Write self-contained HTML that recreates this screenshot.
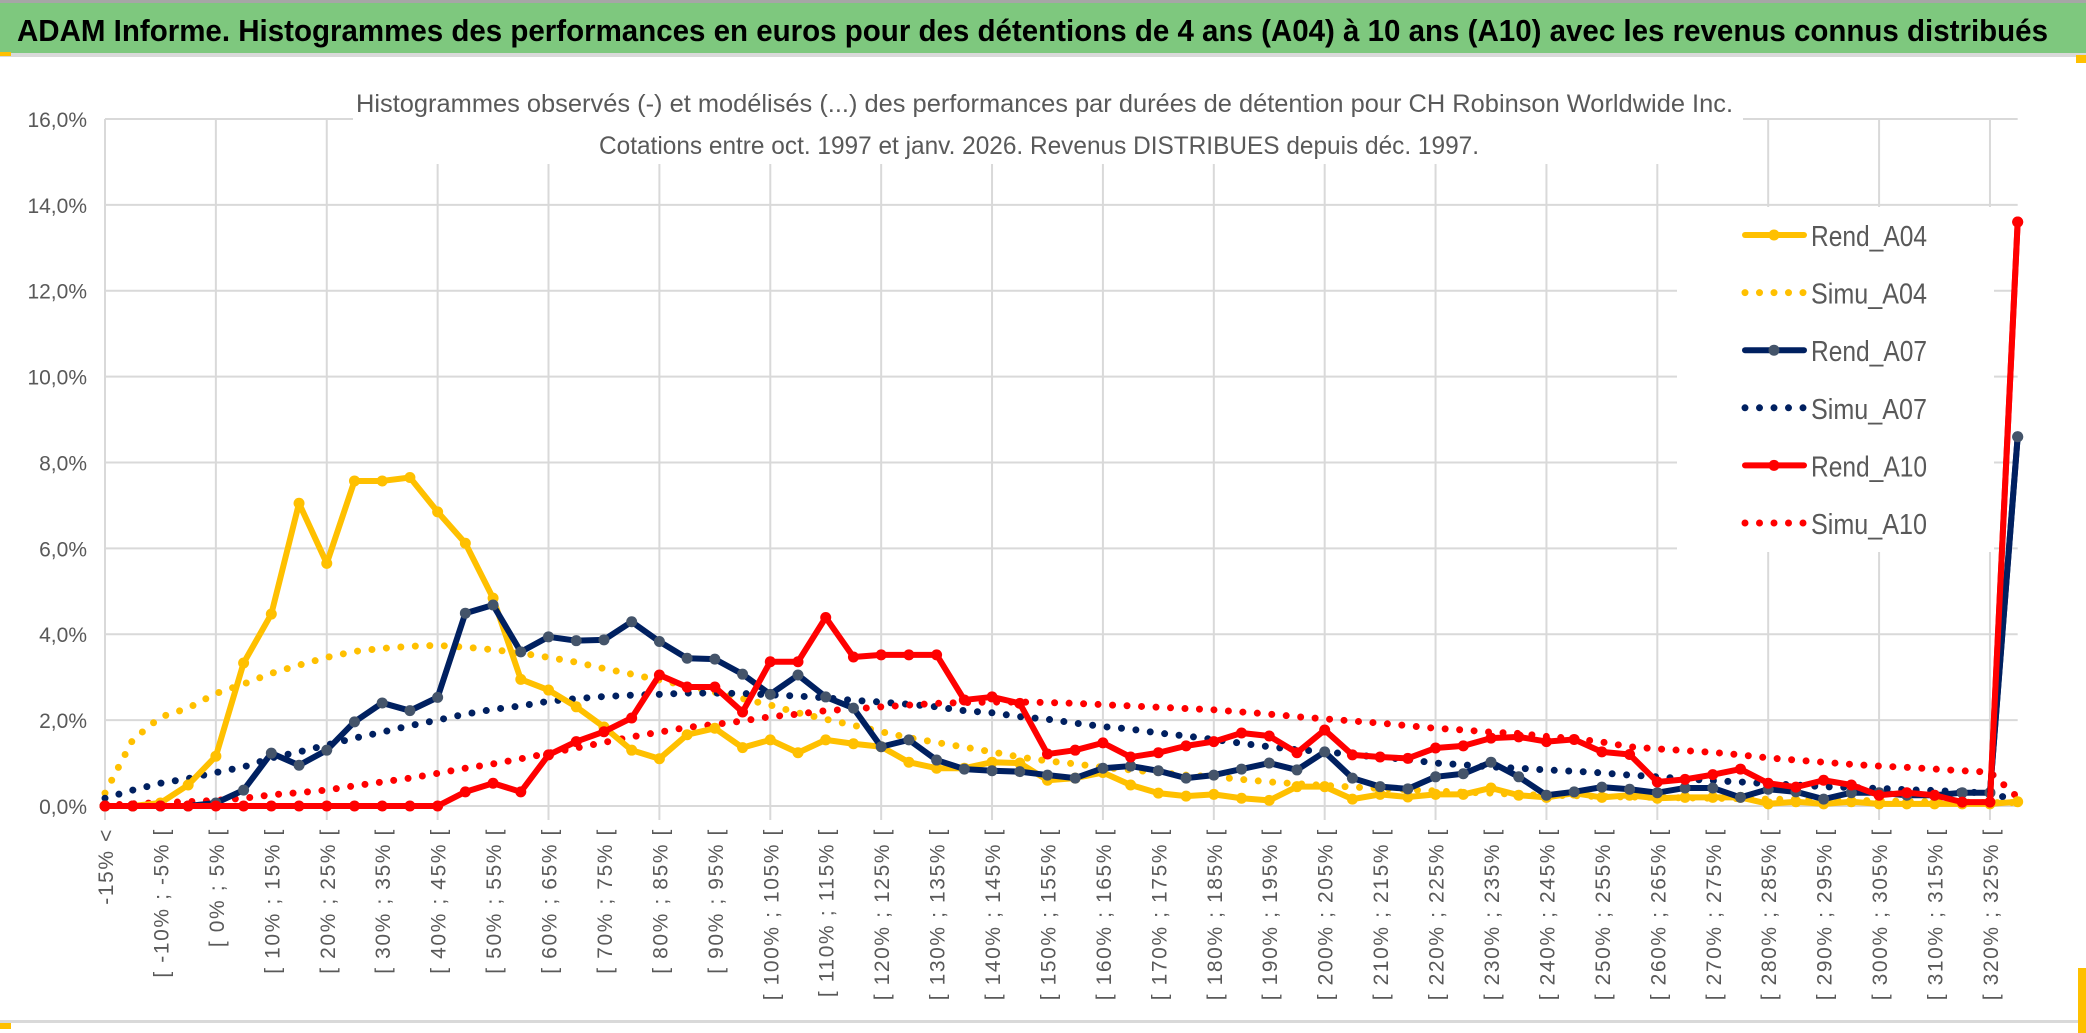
<!DOCTYPE html>
<html><head><meta charset="utf-8"><style>
html,body{margin:0;padding:0;background:#fff;}
svg{display:block;}
</style></head><body>
<svg id="chart" width="2086" height="1033" viewBox="0 0 2086 1033" xmlns="http://www.w3.org/2000/svg" font-family="'Liberation Sans Narrow','Liberation Sans',sans-serif">
<rect x="0" y="0" width="2086" height="1033" fill="#fff"/>
<rect x="0" y="0" width="2086" height="3" fill="#a6a6a6"/>
<rect x="0" y="3" width="2086" height="50" fill="#7ec87e"/>
<rect x="0" y="53" width="2086" height="4" fill="#d9d9d9"/>
<rect x="0" y="52" width="11" height="4" fill="#ffc000"/>
<text x="17" y="41" font-size="31" font-weight="bold" fill="#000" textLength="2031" lengthAdjust="spacingAndGlyphs">ADAM Informe. Histogrammes des performances en euros pour des détentions de 4 ans (A04) à 10 ans (A10) avec les revenus connus distribués</text>
<rect x="0" y="1020" width="2086" height="3" fill="#d9d9d9"/>
<rect x="0" y="1023" width="11" height="6" fill="#ffc000"/>
<rect x="2078" y="968" width="8" height="65" fill="#ffc000"/>
<rect x="2076" y="55" width="10" height="8" fill="#ffc000"/>
<g id="grid"></g>
<rect x="353" y="80" width="1390" height="84" fill="#fff"/>
<text x="356" y="112" font-size="25" fill="#595959" textLength="1377" lengthAdjust="spacingAndGlyphs">Histogrammes observés (-) et modélisés (...) des performances par durées de détention pour CH Robinson Worldwide Inc.</text>
<text x="599" y="154" font-size="25" fill="#595959" textLength="880" lengthAdjust="spacingAndGlyphs">Cotations entre oct. 1997 et janv. 2026. Revenus DISTRIBUES depuis déc. 1997.</text>
<g id="yaxis"></g>
<g id="xaxis"></g>
<g id="series"></g>
<rect x="1677" y="207" width="317" height="345" fill="#fff"/>
<g id="legend"></g>
<g id="overlay"></g>
</svg>
<script>
const categories = (function(){ const c=["-15% <","[ -15% ; -10% ["]; for(let a=-10;a<=325;a+=5){ c.push("[ "+a+"% ; "+(a+5)+"% ["); } return c; })();
const yTicks = [0,2,4,6,8,10,12,14,16];
const yTickLabels = ["0,0%","2,0%","4,0%","6,0%","8,0%","10,0%","12,0%","14,0%","16,0%"];
const rendA04 = [0,0,0.07,0.49,1.16,3.33,4.47,7.05,5.65,7.57,7.57,7.65,6.85,6.12,4.84,2.95,2.7,2.31,1.84,1.3,1.1,1.66,1.81,1.36,1.54,1.24,1.54,1.45,1.38,1.02,0.88,0.88,1.02,1.0,0.6,0.65,0.78,0.49,0.3,0.23,0.27,0.18,0.13,0.45,0.45,0.16,0.27,0.21,0.27,0.27,0.42,0.25,0.2,0.3,0.2,0.25,0.18,0.2,0.2,0.2,0.05,0.1,0.05,0.1,0.05,0.05,0.05,0.05,0.05,0.1];
const simuA04 = [0.3,1.54,2.07,2.28,2.62,2.84,3.09,3.28,3.46,3.6,3.67,3.72,3.74,3.7,3.64,3.56,3.46,3.35,3.2,3.07,2.93,2.8,2.65,2.5,2.35,2.17,2.02,1.88,1.73,1.59,1.48,1.37,1.26,1.14,1.05,0.98,0.9,0.84,0.78,0.72,0.68,0.62,0.56,0.52,0.48,0.44,0.41,0.38,0.35,0.32,0.3,0.27,0.25,0.24,0.22,0.21,0.2,0.19,0.18,0.17,0.16,0.15,0.14,0.13,0.12,0.11,0.1,0.09,0.08,0.08];
const rendA07 = [0,0,0,0,0.07,0.37,1.23,0.95,1.3,1.96,2.4,2.22,2.53,4.49,4.68,3.59,3.94,3.85,3.87,4.29,3.83,3.44,3.42,3.07,2.6,3.05,2.54,2.28,1.38,1.54,1.07,0.86,0.82,0.8,0.72,0.65,0.88,0.93,0.82,0.65,0.72,0.86,1.0,0.84,1.26,0.65,0.45,0.4,0.68,0.75,1.02,0.68,0.25,0.33,0.44,0.39,0.31,0.42,0.42,0.2,0.39,0.33,0.16,0.31,0.31,0.25,0.25,0.31,0.31,8.6];
const simuA07 = [0.18,0.37,0.53,0.64,0.78,0.91,1.12,1.26,1.42,1.58,1.72,1.87,2.0,2.14,2.25,2.33,2.44,2.5,2.55,2.58,2.6,2.63,2.63,2.62,2.59,2.56,2.52,2.46,2.42,2.37,2.31,2.22,2.17,2.08,2.02,1.93,1.85,1.79,1.7,1.63,1.55,1.46,1.38,1.31,1.27,1.19,1.14,1.08,1.0,0.96,0.91,0.88,0.84,0.81,0.77,0.72,0.68,0.63,0.59,0.56,0.52,0.49,0.45,0.43,0.41,0.38,0.36,0.33,0.3,0.12];
const rendA10 = [0,0,0,0,0,0,0,0,0,0,0,0,0,0.33,0.53,0.33,1.19,1.5,1.73,2.05,3.05,2.77,2.77,2.19,3.36,3.36,4.39,3.47,3.52,3.52,3.52,2.47,2.54,2.39,1.21,1.3,1.47,1.14,1.24,1.4,1.5,1.7,1.63,1.24,1.77,1.19,1.14,1.11,1.35,1.4,1.58,1.61,1.5,1.55,1.26,1.2,0.56,0.62,0.73,0.86,0.53,0.44,0.6,0.49,0.25,0.31,0.25,0.09,0.09,13.6];
const simuA10 = [0.02,0.05,0.08,0.1,0.13,0.18,0.26,0.31,0.37,0.47,0.56,0.65,0.76,0.88,0.98,1.1,1.23,1.35,1.48,1.61,1.72,1.83,1.9,1.98,2.08,2.14,2.22,2.26,2.31,2.35,2.39,2.41,2.42,2.42,2.41,2.39,2.36,2.33,2.3,2.27,2.24,2.19,2.14,2.08,2.03,1.98,1.93,1.87,1.81,1.77,1.72,1.69,1.62,1.57,1.49,1.38,1.33,1.29,1.25,1.19,1.12,1.07,1.02,0.97,0.93,0.9,0.86,0.82,0.79,0.2];

const NS="http://www.w3.org/2000/svg";
const X0=105, XSTEP=27.72, Y0=806, YPER=42.94;
function xScale(i){ return X0 + i*XSTEP; }
function yScale(v){ return Y0 - v*YPER; }
function mk(tag, parent){ const e=document.createElementNS(NS,tag); parent.appendChild(e); return e; }
const grid=document.getElementById('grid');
const xEnd = xScale(categories.length-1);
yTicks.forEach((t,k)=>{
  const l=mk('line',grid);
  
  
  l.setAttribute('x1',X0); l.setAttribute('x2',xEnd); l.setAttribute('y1',yScale(t)); l.setAttribute('y2',yScale(t));
  l.setAttribute('stroke','#d9d9d9'); l.setAttribute('stroke-width','2');
  const tx=mk('text',document.getElementById('yaxis'));
  
  
  tx.setAttribute('x',87); tx.setAttribute('y',yScale(t)+8); tx.setAttribute('text-anchor','end');
  tx.setAttribute('font-size','21'); tx.setAttribute('fill','#595959');
  tx.textContent=yTickLabels[k];
});
for(let i=0;i<categories.length;i+=4){
  const l=mk('line',grid);
  
  
  l.setAttribute('x1',xScale(i)); l.setAttribute('x2',xScale(i)); l.setAttribute('y1',yScale(16)); l.setAttribute('y2',Y0+14);
  l.setAttribute('stroke','#d9d9d9'); l.setAttribute('stroke-width','2');
}
const xaxis=document.getElementById('xaxis');
for(let i=0;i<categories.length;i+=2){
  const tx=mk('text',xaxis);
  
  
  const x=xScale(i)+8, y=828;
  tx.setAttribute('x',x); tx.setAttribute('y',y);
  tx.setAttribute('transform','rotate(-90 '+x+' '+y+')');
  tx.setAttribute('text-anchor','end');
  tx.setAttribute('font-family',"'Liberation Sans',sans-serif");
  tx.setAttribute('font-size','21'); tx.setAttribute('letter-spacing','1.6'); tx.setAttribute('fill','#595959');
  tx.textContent=categories[i];
}
const series=document.getElementById('series');
function drawDotted(vals,color,name){
  const p=mk('polyline',series);
  
  
  p.setAttribute('points',vals.map((v,i)=>xScale(i)+','+yScale(v)).join(' '));
  p.setAttribute('fill','none'); p.setAttribute('stroke',color); p.setAttribute('stroke-width','7');
  p.setAttribute('stroke-linecap','round'); p.setAttribute('stroke-dasharray','0 14.5');
}
function drawSolid(vals,color,marker,name){
  const p=mk('polyline',series);
  
  
  p.setAttribute('points',vals.map((v,i)=>xScale(i)+','+yScale(v)).join(' '));
  p.setAttribute('fill','none'); p.setAttribute('stroke',color); p.setAttribute('stroke-width','6');
  p.setAttribute('stroke-linejoin','round');
  vals.forEach((v,i)=>{
    const c=mk('circle',series);
    
    
    c.setAttribute('cx',xScale(i)); c.setAttribute('cy',yScale(v)); c.setAttribute('r','5.5'); c.setAttribute('fill',marker);
  });
}
drawDotted(simuA04,'#ffc000','simu-a04-line');
drawDotted(simuA07,'#002060','simu-a07-line');
drawDotted(simuA10,'#ff0000','simu-a10-line');
drawSolid(rendA04,'#ffc000','#ffc000','rend-a04-line');
drawSolid(rendA07,'#002060','#44546a','rend-a07-line');
drawSolid(rendA10,'#ff0000','#ff0000','rend-a10-line');

const legend=document.getElementById('legend');
const legNames=["Rend_A04","Simu_A04","Rend_A07","Simu_A07","Rend_A10","Simu_A10"];
const legColors=["#ffc000","#ffc000","#002060","#002060","#ff0000","#ff0000"];
const legMarkers=["#ffc000",null,"#44546a",null,"#ff0000",null];
legNames.forEach((n,k)=>{
  const y=235+k*57.6;
  const l=mk('line',legend);
  
  
  l.setAttribute('y1',y); l.setAttribute('y2',y); l.setAttribute('stroke',legColors[k]);
  if(legMarkers[k]){
    l.setAttribute('x1',1745); l.setAttribute('x2',1804); l.setAttribute('stroke-width','6'); l.setAttribute('stroke-linecap','round');
    const c=mk('circle',legend);
    
    
    c.setAttribute('cx',1774); c.setAttribute('cy',y); c.setAttribute('r','5.5'); c.setAttribute('fill',legMarkers[k]);
  } else {
    l.setAttribute('x1',1745); l.setAttribute('x2',1805); l.setAttribute('stroke-width','7'); l.setAttribute('stroke-linecap','round'); l.setAttribute('stroke-dasharray','0 14.5');
  }
  const t=mk('text',legend);
  
  
  t.setAttribute('x',1811); t.setAttribute('y',y+11); t.setAttribute('font-size','29'); t.setAttribute('fill','#595959');
  t.setAttribute('textLength','116'); t.setAttribute('lengthAdjust','spacingAndGlyphs');
  t.textContent=n;
});
// spike segments continue over legend region (drawn on top)
const ov=document.getElementById('overlay');
[[rendA07,'#002060','#44546a','rend-a07-spike'],[rendA10,'#ff0000','#ff0000','rend-a10-spike']].forEach(s=>{
  const n=s[0].length;
  const p=mk('polyline',ov);
  
  
  p.setAttribute('points',xScale(n-2)+','+yScale(s[0][n-2])+' '+xScale(n-1)+','+yScale(s[0][n-1]));
  p.setAttribute('fill','none'); p.setAttribute('stroke',s[1]); p.setAttribute('stroke-width','6');
  const c=mk('circle',ov);
  
  
  c.setAttribute('cx',xScale(n-1)); c.setAttribute('cy',yScale(s[0][n-1])); c.setAttribute('r','5.5'); c.setAttribute('fill',s[2]);
});
</script>
</body></html>
